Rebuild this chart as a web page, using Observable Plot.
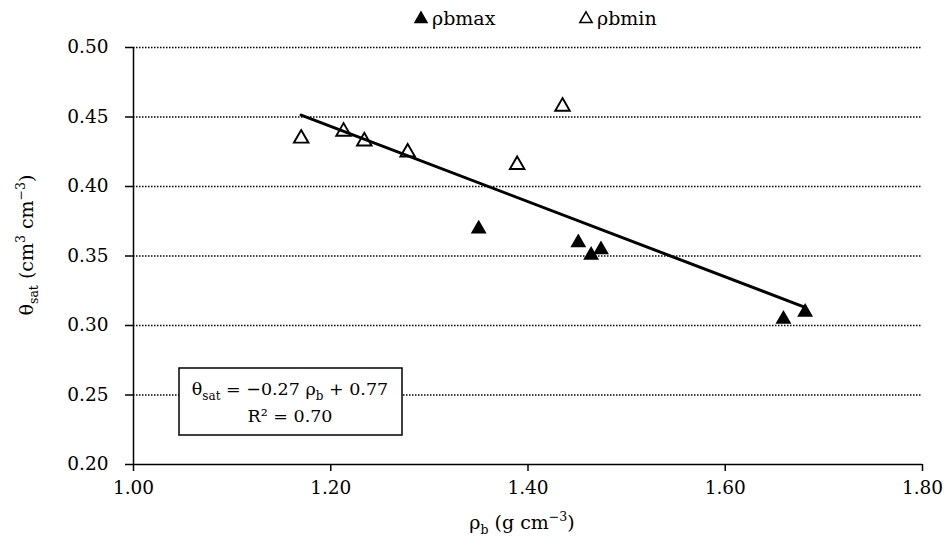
<!DOCTYPE html>
<html>
<head>
<meta charset="utf-8">
<script src="https://cdn.jsdelivr.net/npm/d3@7"></script>
<script src="https://cdn.jsdelivr.net/npm/@observablehq/plot@0.6"></script>
<style>
  html, body { margin: 0; padding: 0; background: #fff; }
  #chart { width: 946px; height: 538px; position: relative; }
  #chart svg, #chart svg text { font-family: "DejaVu Serif" !important; }
</style>
</head>
<body>
<div id="chart"></div>
<script>
// ---- data ----
const rhoMax   = [1.350, 1.451, 1.464, 1.474, 1.659, 1.681];
const thetaMax = [0.371, 0.361, 0.352, 0.356, 0.306, 0.311];
const rhoMin   = [1.170, 1.213, 1.234, 1.278, 1.389, 1.435];
const thetaMin = [0.436, 0.441, 0.434, 0.426, 0.417, 0.459];
const xTicks = [1.0, 1.2, 1.4, 1.6, 1.8];
const yTicks = [0.20, 0.25, 0.30, 0.35, 0.40, 0.45, 0.50];
const seriesNames = ["ρbmax", "ρbmin"];
const eqSlope = "−0.27", eqIntercept = "0.77", eqR2 = "0.70";

const maxData = rhoMax.map((x, i) => ({x, y: thetaMax[i], s: seriesNames[0]}));
const minData = rhoMin.map((x, i) => ({x, y: thetaMin[i], s: seriesNames[1]}));
const allData = maxData.concat(minData);

const W = 946, H = 538;
const fmt = d3.format(".2f");
const plot = Plot.plot({
  width: W, height: H,
  marginLeft: 133, marginRight: 24, marginTop: 47, marginBottom: 74,
  style: {fontFamily: "DejaVu Serif", fontSize: "18px", color: "#000", background: "#fff"},
  x: {domain: [1.0, 1.8], ticks: xTicks, tickFormat: fmt, tickSize: 7, tickPadding: 9, label: null},
  y: {domain: [0.20, 0.50], ticks: yTicks, tickFormat: fmt, tickSize: 8, tickPadding: 17, label: null},
  marks: [
    Plot.ruleY(yTicks.slice(1), {stroke: "#000", strokeWidth: 1.4, strokeDasharray: "1.5,1.5"}),
    Plot.ruleX([1.0], {stroke: "#000", strokeWidth: 1.5}),
    Plot.ruleY([0.20], {stroke: "#000", strokeWidth: 1.5}),
    Plot.dot(minData, {x: "x", y: "y", symbol: "triangle", r: 5.4, fill: "#fff", stroke: "#000", strokeWidth: 1.9, dy: 2}),
    Plot.dot(maxData, {x: "x", y: "y", symbol: "triangle", r: 5.9, fill: "#000", stroke: "none", dy: 2}),
    Plot.linearRegressionY(allData, {x: "x", y: "y", ci: 0, stroke: "#000", strokeWidth: 3})
  ]
});
document.getElementById("chart").appendChild(plot);

const svg = d3.select(plot);
svg.selectAll("g[aria-label='x-axis tick'] path, g[aria-label='y-axis tick'] path").attr("stroke-width", 1.5);
svg.selectAll("g[aria-label='x-axis tick label'] text, g[aria-label='y-axis tick label'] text")
  .style("font-size", "18.5px").style("font-family", "DejaVu Serif").attr("fill", "#000");

// axis titles
const yl = svg.append("text")
  .attr("transform", "translate(33,245) rotate(-90)")
  .attr("text-anchor", "middle").style("font-size", "19px").attr("fill", "#000");
yl.append("tspan").text("θ");
yl.append("tspan").style("font-size", "12.5px").attr("dy", 5).text("sat");
yl.append("tspan").attr("dy", -5).text(" (cm");
yl.append("tspan").style("font-size", "12.5px").attr("dy", -8).text("3");
yl.append("tspan").attr("dy", 8).text(" cm");
yl.append("tspan").style("font-size", "12.5px").attr("dy", -8).text("−3");
yl.append("tspan").attr("dy", 8).text(")");

const xl = svg.append("text")
  .attr("x", 522).attr("y", 529)
  .attr("text-anchor", "middle").style("font-size", "19px").attr("fill", "#000");
xl.append("tspan").text("ρ");
xl.append("tspan").style("font-size", "12.5px").attr("dy", 5).text("b");
xl.append("tspan").attr("dy", -5).text(" (g cm");
xl.append("tspan").style("font-size", "12.5px").attr("dy", -8).text("−3");
xl.append("tspan").attr("dy", 8).text(")");

// equation box
svg.append("rect").attr("x", 179).attr("y", 368).attr("width", 223).attr("height", 67)
  .attr("fill", "#fff").attr("stroke", "#000").attr("stroke-width", 1.5);
const e1 = svg.append("text").attr("x", 290).attr("y", 395)
  .attr("text-anchor", "middle").style("font-size", "17.5px").attr("fill", "#000");
e1.append("tspan").text("θ");
e1.append("tspan").style("font-size", "12px").attr("dy", 5).text("sat");
e1.append("tspan").attr("dy", -5).text(` = ${eqSlope} ρ`);
e1.append("tspan").style("font-size", "12px").attr("dy", 5).text("b");
e1.append("tspan").attr("dy", -5).text(` + ${eqIntercept}`);
svg.append("text").attr("x", 290).attr("y", 422)
  .attr("text-anchor", "middle").style("font-size", "17.5px").attr("fill", "#000")
  .text(`R² = ${eqR2}`);

// legend
const lg = svg.append("g");
lg.append("path").attr("d", d3.symbol(d3.symbolTriangle, Math.PI * 5.4 * 5.4)()).attr("transform", "translate(421,19)").attr("fill", "#000");
lg.append("text").attr("x", 432).attr("y", 25).attr("text-anchor", "start").style("font-size", "19px").attr("fill", "#000").text(seriesNames[0]);
lg.append("path").attr("d", d3.symbol(d3.symbolTriangle, Math.PI * 4.6 * 4.6)()).attr("transform", "translate(586,19)")
  .attr("fill", "#fff").attr("stroke", "#000").attr("stroke-width", 1.5);
lg.append("text").attr("x", 597).attr("y", 25).attr("text-anchor", "start").style("font-size", "19px").attr("fill", "#000").text(seriesNames[1]);
</script>
</body>
</html>
